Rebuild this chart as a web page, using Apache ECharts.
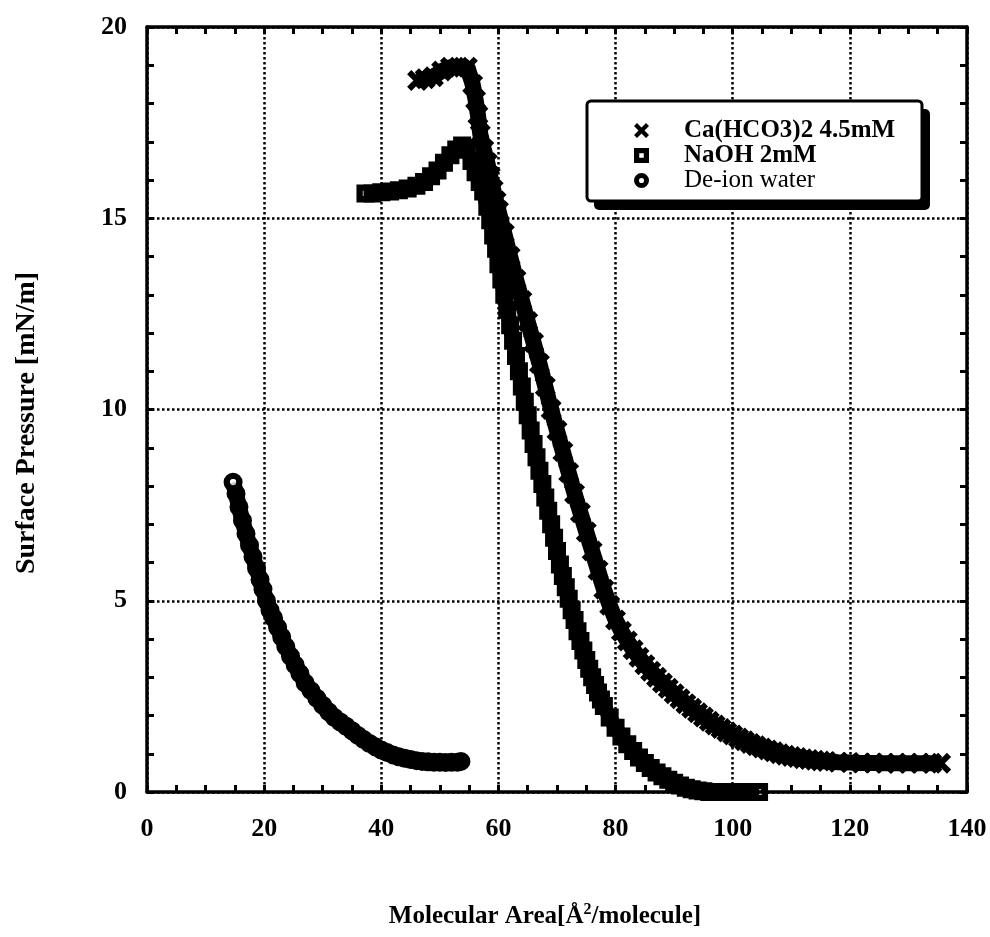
<!DOCTYPE html>
<html>
<head>
<meta charset="utf-8">
<script src="https://cdn.jsdelivr.net/npm/echarts@6/dist/echarts.min.js"></script>
<style>html,body{margin:0;padding:0;background:#fff;}#chart{width:990px;height:937px;}</style>
</head>
<body>
<div id="chart"></div>
<script>
// ---- data ----
const seriesNames = ['Ca(HCO3)2 4.5mM', 'NaOH 2mM', 'De-ion water'];
const xTickValues = [0, 20, 40, 60, 80, 100, 120, 140];
const yTickValues = [0, 5, 10, 15, 20];

const caData = [
  [46.2,18.6],[47.5,18.65],[48.9,18.7],[50.3,18.85],[51.8,18.95],[53.2,18.95],[54.7,18.95],[55.6,18.5],
  [56.1,18.1],[56.5,17.7],[56.9,17.2],[57.5,16.8],[58.1,16.45],[58.6,16.1],[59.1,15.75],[59.6,15.45],
  [60.0,15.2],[61.0,14.6],[62.0,14.0],[63.0,13.4],[64.0,12.85],[65.0,12.3],[66.0,11.75],[67.0,11.2],
  [68.0,10.6],[69.0,10.0],[70.0,9.45],[71.0,8.9],[72.0,8.35],[73.0,7.8],[74.0,7.3],[75.0,6.8],
  [76.0,6.3],[77.0,5.8],[78.0,5.3],[79.0,4.88],[80.0,4.5],[81.0,4.2],[82.0,3.95],[83.0,3.72],
  [84.0,3.52],[85.0,3.33],[86.0,3.16],[87.0,3.0],[88.0,2.85],[89.0,2.71],[90.0,2.57],[91.0,2.44],
  [92.0,2.31],[93.0,2.19],[94.0,2.07],[95.0,1.96],[96.0,1.85],[97.0,1.75],[98.0,1.66],[99.0,1.57],
  [100.0,1.49],[101.0,1.41],[102.0,1.34],[103.0,1.27],[104.0,1.21],[105.0,1.15],[106.0,1.1],[107.0,1.05],
  [108.0,1.0],[109.0,0.96],[110.0,0.93],[111.0,0.9],[112.0,0.87],[113.0,0.85],[114.0,0.83],[115.0,0.81],
  [116.0,0.8],[118.0,0.78],[120.0,0.77],[122.0,0.76],[124.0,0.76],[126.0,0.75],[128.0,0.75],[130.0,0.75],
  [132.0,0.75],[134.0,0.75],[135.5,0.75]
];

const naohData = [
  [37.3,15.65],[38.5,15.65],[40.0,15.68],[41.5,15.7],[43.0,15.73],[44.5,15.78],[46.0,15.85],[47.3,15.95],
  [48.5,16.1],[49.6,16.25],[50.7,16.45],[51.8,16.65],[52.8,16.8],[53.8,16.9],[54.6,16.8],[55.4,16.5],
  [56.1,16.2],[56.8,15.95],[57.4,15.7],[58.1,15.3],[58.6,14.95],[59.1,14.55],[59.6,14.2],[60.0,13.8],
  [60.5,13.4],[61.0,13.0],[61.5,12.6],[62.0,12.2],[62.5,11.8],[63.0,11.4],[63.5,11.0],[64.0,10.6],
  [64.5,10.2],[65.0,9.85],[65.5,9.45],[66.0,9.1],[66.5,8.75],[67.0,8.4],[67.5,8.05],[68.0,7.7],
  [68.5,7.35],[69.0,7.0],[69.5,6.65],[70.0,6.3],[70.5,5.95],[71.0,5.65],[71.5,5.35],[72.0,5.05],
  [72.5,4.75],[73.0,4.5],[73.5,4.2],[74.0,3.95],[74.5,3.7],[75.0,3.45],[75.5,3.22],[76.0,3.0],
  [76.5,2.8],[77.0,2.6],[77.5,2.42],[78.0,2.25],[79.0,1.95],[80.0,1.68],[81.0,1.45],[82.0,1.25],
  [83.0,1.07],[84.0,0.9],[85.0,0.76],[86.0,0.63],[87.0,0.51],[88.0,0.41],[89.0,0.32],[90.0,0.24],
  [91.0,0.17],[92.0,0.11],[93.0,0.07],[94.0,0.04],[95.0,0.02],[96.0,0.0],[98.0,0.0],[100.0,0.0],
  [102.0,0.0],[104.5,0.0]
];

const deionData = [
  [14.7,8.1],[15.2,7.8],[15.7,7.45],[16.3,7.1],[16.9,6.75],[17.5,6.45],[18.1,6.15],[18.7,5.85],
  [19.3,5.55],[19.8,5.3],[20.4,5.0],[21.0,4.75],[21.6,4.55],[22.3,4.3],[23.0,4.05],[23.7,3.8],
  [24.5,3.55],[25.3,3.32],[26.1,3.1],[27.0,2.85],[28.0,2.65],[29.0,2.45],[30.0,2.27],[31.0,2.1],
  [32.0,1.95],[33.0,1.83],[34.0,1.72],[35.0,1.6],[36.0,1.48],[37.0,1.37],[38.0,1.27],[39.0,1.18],
  [40.0,1.1],[41.0,1.03],[42.0,0.97],[43.0,0.92],[44.0,0.88],[45.0,0.85],[46.0,0.82],[47.0,0.8],
  [48.0,0.79],[49.0,0.78],[50.0,0.78],[51.0,0.77],[52.0,0.78],[53.0,0.78],[53.6,0.8]
];

// ---- styling ----
const FONT = "'Liberation Serif', 'Times New Roman', serif";
const crossPath = 'path://M0,2 L2,0 L5,3 L8,0 L10,2 L7,5 L10,8 L8,10 L5,7 L2,10 L0,8 L3,5 Z';
const squarePath = 'path://M0,0 L10,0 L10,10 L0,10 Z M3.5,3.5 L3.5,6.5 L6.5,6.5 L6.5,3.5 Z';
const circlePath = 'path://M0,5 A5,5 0 1,1 10,5 A5,5 0 1,1 0,5 Z M3.3,5 A1.7,1.7 0 1,0 6.7,5 A1.7,1.7 0 1,0 3.3,5 Z';

const chart = echarts.init(document.getElementById('chart'), null, {renderer: 'canvas'});

function baseAxis(extra) {
  return Object.assign({
    type: 'value',
    axisLine: {show: true, onZero: false, lineStyle: {color: '#000', width: 3.5}},
    axisTick: {show: true, inside: true, length: 7, lineStyle: {color: '#000', width: 3}},
    minorTick: {show: true, length: 7, lineStyle: {color: '#000', width: 3}},
    axisLabel: {show: false},
    splitLine: {show: false}
  }, extra);
}

const labelStyle = {show: true, color: '#000', fontFamily: FONT, fontSize: 26, fontWeight: 'bold'};
const gridLine = {show: true, lineStyle: {color: '#000', type: 'dotted', width: 2.5}};

const option = {
  animation: false,
  backgroundColor: '#fff',
  grid: {left: 147, right: 23, top: 27, bottom: 145, containLabel: false},
  xAxis: [
    baseAxis({
      position: 'bottom', min: 0, max: xTickValues[xTickValues.length - 1], interval: 20,
      minorTick: {show: true, splitNumber: 4, length: 7, lineStyle: {color: '#000', width: 3}},
      axisLabel: Object.assign({margin: 24}, labelStyle),
      splitLine: gridLine,
      name: 'Molecular Area[Å{sup|2}/molecule]',
      nameLocation: 'middle', nameGap: 110,
      nameTextStyle: {color: '#000', fontFamily: FONT, fontSize: 25, fontWeight: 'bold', padding: [0, 24, 0, 0],
        rich: {sup: {fontFamily: FONT, fontSize: 16, fontWeight: 'bold', verticalAlign: 'top', padding: [0, 0, 14, 0]}}}
    }),
    baseAxis({
      position: 'top', min: 0, max: xTickValues[xTickValues.length - 1], interval: 20,
      minorTick: {show: true, splitNumber: 4, length: 7, lineStyle: {color: '#000', width: 3}}
    })
  ],
  yAxis: [
    baseAxis({
      position: 'left', min: 0, max: yTickValues[yTickValues.length - 1], interval: 5,
      minorTick: {show: true, splitNumber: 5, length: 7, lineStyle: {color: '#000', width: 3}},
      axisLabel: Object.assign({margin: 20}, labelStyle),
      splitLine: gridLine,
      name: 'Surface Pressure [mN/m]',
      nameLocation: 'middle', nameGap: 106, nameRotate: 90,
      nameTextStyle: {color: '#000', fontFamily: FONT, fontSize: 28, fontWeight: 'bold', padding: [0, 27, 0, 0]}
    }),
    baseAxis({
      position: 'right', min: 0, max: yTickValues[yTickValues.length - 1], interval: 5,
      minorTick: {show: true, splitNumber: 5, length: 7, lineStyle: {color: '#000', width: 3}}
    })
  ],
  graphic: [
    {type: 'rect', z: 10, silent: true, shape: {x: 594, y: 109, width: 336, height: 101, r: 5},
     style: {fill: '#000'}},
    {type: 'rect', z: 11, silent: true, shape: {x: 587, y: 101, width: 335, height: 100, r: 4},
     style: {fill: '#fff', stroke: '#000', lineWidth: 3}}
  ],
  legend: {
    orient: 'vertical',
    left: 587, top: 102, z: 20,
    selectedMode: false,
    itemWidth: 15, itemHeight: 15, itemGap: 0,
    padding: [16, 20, 9, 47],
    textStyle: {color: '#000', fontFamily: FONT, fontSize: 25, fontWeight: 'bold', padding: [0, 0, 0, 30]},
    data: [
      {name: seriesNames[0], icon: crossPath},
      {name: seriesNames[1], icon: squarePath},
      {name: seriesNames[2], icon: circlePath, textStyle: {fontWeight: 'normal'}}
    ]
  },
  series: [
    {
      name: seriesNames[0], type: 'line', data: caData, clip: false, z: 3,
      symbol: crossPath, symbolSize: 21, showSymbol: true,
      itemStyle: {color: '#000'}, lineStyle: {color: '#000', width: 16}
    },
    {
      name: seriesNames[1], type: 'line', data: naohData, clip: false, z: 4,
      symbol: squarePath, symbolSize: 18, showSymbol: true,
      itemStyle: {color: '#000'}, lineStyle: {color: '#000', width: 15}
    },
    {
      name: seriesNames[2], type: 'line', data: deionData, clip: false, z: 4,
      symbol: circlePath, symbolSize: 19, showSymbol: true,
      itemStyle: {color: '#000'}, lineStyle: {color: '#000', width: 16}
    },
    {
      name: 'deion-start', type: 'scatter', data: [deionData[0]], z: 6, silent: true,
      symbol: 'circle', symbolSize: 6, itemStyle: {color: '#fff'}
    }
  ]
};
chart.setOption(option);
</script>
</body>
</html>
